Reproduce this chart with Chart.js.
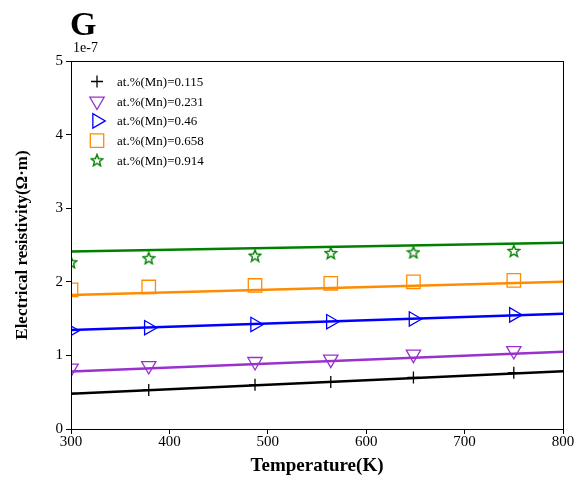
<!DOCTYPE html>
<html>
<head>
<meta charset="utf-8">
<script src="https://cdn.jsdelivr.net/npm/chart.js@4.4.0/dist/chart.umd.min.js"></script>
<style>
  html, body { margin: 0; padding: 0; background: #fff; }
  #wrap { width: 578px; height: 477px; }
</style>
</head>
<body>
<div id="wrap"><canvas id="chart" width="578" height="477"></canvas></div>
<script>
// measured points, resistivity in units of 1e-7 ohm*m
const temps = [300, 379, 487, 564, 648, 750];
const labels = ["at.%(Mn)=0.115", "at.%(Mn)=0.231", "at.%(Mn)=0.46", "at.%(Mn)=0.658", "at.%(Mn)=0.914"];
const rho115 = [0.485, 0.53, 0.60, 0.64, 0.70, 0.765];
const rho231 = [0.825, 0.86, 0.915, 0.947, 1.015, 1.064];
const rho46  = [1.336, 1.376, 1.42, 1.458, 1.495, 1.55];
const rho658 = [1.89, 1.93, 1.95, 1.98, 2.0, 2.02];
const rho914 = [2.265, 2.32, 2.355, 2.39, 2.40, 2.42];

// fitted lines, value at 300 K and at 800 K
const fitT = [300, 800];
const fit115 = [0.48, 0.784];
const fit231 = [0.78, 1.05];
const fit46  = [1.345, 1.567];
const fit658 = [1.82, 2.0];
const fit914 = [2.41, 2.53];

const colors = ["#000000", "#9932CC", "#0000FF", "#FF8C00", "#008000"];

// hollow 5-point star, chart.js 'star' is an asterisk so make our own
function makeStar(color) {
  const c = document.createElement("canvas");
  c.width = 14; c.height = 14;
  const g = c.getContext("2d");
  g.strokeStyle = color;
  g.lineWidth = 1.4;
  g.beginPath();
  for (let i = 0; i < 10; i++) {
    const r = i % 2 === 0 ? 6.2 : 2.7;
    const a = -Math.PI / 2 + i * Math.PI / 5;
    const px = 7 + r * Math.cos(a), py = 7.5 + r * Math.sin(a);
    if (i === 0) g.moveTo(px, py); else g.lineTo(px, py);
  }
  g.closePath();
  g.stroke();
  return c;
}
const starImg = makeStar(colors[4]);

const markers = [
  { pointStyle: "cross", rotation: 0, radius: 6 },
  { pointStyle: "triangle", rotation: 180, radius: 8.3 },
  { pointStyle: "triangle", rotation: 90, radius: 8.3 },
  { pointStyle: "rect", rotation: 0, radius: 9.5 },
  { pointStyle: starImg, rotation: 0, radius: 7 },
];

const measured = [rho115, rho231, rho46, rho658, rho914];
const fits = [fit115, fit231, fit46, fit658, fit914];

function toXY(xs, ys) {
  return xs.map((x, i) => ({ x: x, y: ys[i] }));
}

const datasets = [];
for (let k = 0; k < 5; k++) {
  datasets.push({
    label: labels[k],
    data: toXY(temps, measured[k]),
    showLine: false,
    borderColor: colors[k],
    backgroundColor: "rgba(0,0,0,0)",
    pointStyle: markers[k].pointStyle,
    rotation: markers[k].rotation,
    pointRadius: markers[k].radius,
    pointBorderWidth: 1.3,
    order: 1,
  });
  datasets.push({
    label: "fit " + labels[k],
    data: toXY(fitT, fits[k]),
    showLine: true,
    borderColor: colors[k],
    borderWidth: 2.5,
    pointRadius: 0,
    order: 2,
  });
}

const serif = "'Liberation Serif', 'Times New Roman', serif";

// frame, title letter, exponent label and the legend
const extras = {
  id: "extras",
  afterDraw(chart) {
    const ctx = chart.ctx;
    const a = chart.chartArea;
    ctx.save();
    ctx.strokeStyle = "#000";
    ctx.lineWidth = 1;
    ctx.strokeRect(a.left + 0.5, a.top + 0.5, a.right - a.left, a.bottom - a.top);

    ctx.fillStyle = "#000";
    ctx.font = "bold 34px " + serif;
    ctx.textBaseline = "alphabetic";
    ctx.textAlign = "left";
    ctx.fillText("G", 70, 35);

    ctx.font = "14px " + serif;
    ctx.fillText("1e-7", 73, 52);

    // legend
    ctx.font = "13px " + serif;
    ctx.textBaseline = "middle";
    for (let k = 0; k < 5; k++) {
      const y = 81.5 + k * 19.7;
      ctx.strokeStyle = colors[k];
      ctx.fillStyle = "rgba(0,0,0,0)";
      ctx.lineWidth = 1.3;
      Chart.helpers.drawPoint(ctx, {
        pointStyle: markers[k].pointStyle,
        rotation: markers[k].rotation,
        radius: markers[k].radius,
        borderWidth: 1.3,
      }, 97, y);
      ctx.fillStyle = "#000";
      ctx.fillText(labels[k], 117, y + 1);
    }
    ctx.restore();
  }
};

new Chart(document.getElementById("chart"), {
  type: "scatter",
  data: { datasets: datasets },
  plugins: [extras],
  options: {
    responsive: false,
    animation: false,
    layout: { padding: { top: 61, right: 15, left: 0, bottom: 0 } },
    plugins: {
      legend: { display: false },
      tooltip: { enabled: false },
    },
    scales: {
      x: {
        type: "linear",
        min: 300,
        max: 800,
        afterFit(s) { s.height = 48; },
        ticks: { stepSize: 100, color: "#000", font: { family: serif, size: 15 }, padding: -1 },
        grid: { drawOnChartArea: false, drawTicks: true, tickLength: 5, color: "#000" },
        border: { color: "#000" },
        title: { display: true, text: "Temperature(K)", color: "#000", font: { family: serif, size: 19, weight: "bold" }, padding: { top: 0, bottom: 0 } },
      },
      y: {
        min: 0,
        max: 5,
        afterFit(s) { s.width = 71; },
        ticks: { stepSize: 1, color: "#000", font: { family: serif, size: 15 }, padding: 3 },
        grid: { drawOnChartArea: false, drawTicks: true, tickLength: 5, color: "#000" },
        border: { color: "#000" },
        title: { display: true, text: "Electrical resistivity(Ω·m)", color: "#000", font: { family: serif, size: 17, weight: "bold" }, padding: { bottom: 0, top: 12 } },
      },
    },
  },
});
</script>
</body>
</html>
